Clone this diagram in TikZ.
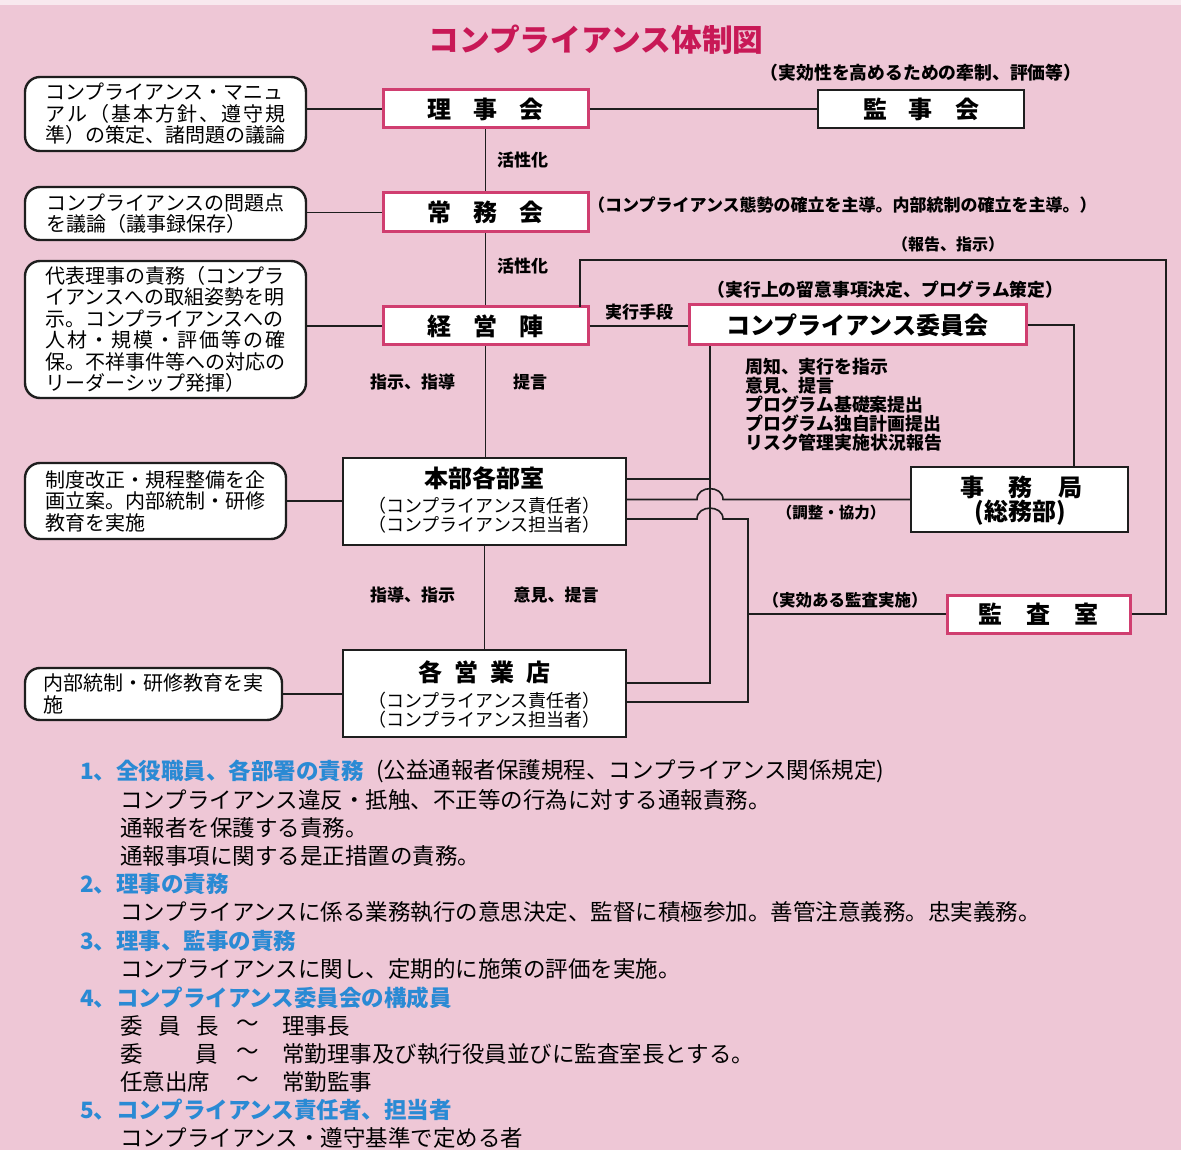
\documentclass[tikz,border=0pt]{standalone}
\usepackage{fontspec}
\setmainfont{Noto Sans CJK JP}
\definecolor{bgpink}{RGB}{238,199,214}
\definecolor{boxpink}{RGB}{208,62,112}
\definecolor{titlered}{RGB}{200,24,86}
\definecolor{headblue}{RGB}{42,138,212}
\definecolor{linec}{RGB}{30,30,30}
\tikzset{
  pinkbox/.style={draw=boxpink, line width=3pt, fill=white, inner sep=0pt, font=\bfseries\fontsize{24}{28}\selectfont},
  blackbox/.style={draw=linec, line width=2pt, fill=white, inner sep=0pt, font=\bfseries\fontsize{24}{28}\selectfont},
  notebox/.style={draw=linec, line width=2.4pt, fill=white, rounded corners=15pt, inner sep=0pt, align=left, font=\fontsize{20}{21.5}\selectfont},
  link/.style={draw=linec, line width=1.6pt},
  lab/.style={inner sep=0pt, font=\bfseries\fontsize{17}{19}\selectfont},
  subtxt/.style={inner sep=0pt, font=\fontsize{18}{19}\selectfont},
  bigtxt/.style={inner sep=0pt, font=\bfseries\fontsize{24}{28}\selectfont},
  btext/.style={anchor=west, inner sep=0pt, font=\fontsize{22.5}{26}\selectfont},
  bhead/.style={anchor=west, inner sep=0pt, text=headblue, font=\bfseries\fontsize{22.5}{26}\selectfont},
}
\begin{document}
\begin{tikzpicture}[x=1pt,y=-1pt]
\useasboundingbox (0,0) rectangle (1181,1150);
\fill[bgpink] (0,0) rectangle (1181,1150);
\fill[bgpink!40!white] (0,0) rectangle (1181,5);

% title
\node[inner sep=0pt, text=titlered, font=\bfseries\fontsize{30.7}{34}\selectfont] (title) at (596,40) {コンプライアンス体制図};

% main boxes
\node[pinkbox, minimum width=205pt, minimum height=38pt] (riji) at (485.5,109) {理\hspace{22pt}事\hspace{22pt}会};
\node[blackbox, minimum width=206pt, minimum height=38pt] (kanji) at (921,109) {監\hspace{22pt}事\hspace{22pt}会};
\node[pinkbox, minimum width=205pt, minimum height=39pt] (jomu) at (485.5,212.5) {常\hspace{22pt}務\hspace{22pt}会};
\node[pinkbox, minimum width=205pt, minimum height=38pt] (keiei) at (485.5,326) {経\hspace{22pt}営\hspace{22pt}陣};
\node[pinkbox, minimum width=337pt, minimum height=40pt] (iinkai) at (857.5,325) {コンプライアンス委員会};
\node[blackbox, minimum width=217pt, minimum height=65pt] (jimu) at (1019.5,499.5) {};
\node[blackbox, minimum width=283pt, minimum height=87pt] (honbu) at (484.5,501.5) {};
\node[blackbox, minimum width=283pt, minimum height=87pt] (eigyo) at (484.5,693.5) {};
\node[pinkbox, minimum width=183pt, minimum height=38pt] (kansa) at (1038.5,614) {監\hspace{24pt}査\hspace{24pt}室};

% texts inside multi-line boxes
\node[bigtxt] (jimuA) at (1021,487) {事\hspace{25pt}務\hspace{25pt}局};
\node[bigtxt] (jimuB) at (1020,513) {(総務部)};
\node[bigtxt] (honbuA) at (484.5,478) {本部各部室};
\node[subtxt] (honbuB) at (484.5,506) {（コンプライアンス責任者）};
\node[subtxt] (honbuC) at (484.5,525) {（コンプライアンス担当者）};
\node[bigtxt] (eigyoA) at (484.5,672) {各\hspace{12pt}営\hspace{12pt}業\hspace{12pt}店};
\node[subtxt] (eigyoB) at (484.5,701) {（コンプライアンス責任者）};
\node[subtxt] (eigyoC) at (484.5,720) {（コンプライアンス担当者）};

% left note boxes
\node[notebox, minimum width=281pt, minimum height=74pt] (n1) at (165.5,114) {コンプライアンス・マニュ\\\makebox[240pt][s]{ア\hfill ル\hfill （\hfill 基\hfill 本\hfill 方\hfill 針\hfill 、\hfill 遵\hfill 守\hfill 規}\\準）の策定、諸問題の議論};
\node[notebox, minimum width=281pt, minimum height=53pt] (n2) at (165.5,213.5) {コンプライアンスの問題点\\を議論（議事録保存）};
\node[notebox, minimum width=281pt, minimum height=137pt] (n3) at (165.5,329.5) {代表理事の責務（コンプラ\\イアンスへの取組姿勢を明\\示。コンプライアンスへの\\\makebox[240pt][s]{人\hfill 材\hfill ・\hfill 規\hfill 模\hfill ・\hfill 評\hfill 価\hfill 等\hfill の\hfill 確}\\保。不祥事件等への対応の\\リーダーシップ発揮）};
\node[notebox, minimum width=261pt, minimum height=76pt] (n4) at (155.5,501) {制度改正・規程整備を企\\画立案。内部統制・研修\\教育を実施};
\node[notebox, minimum width=257pt, minimum height=52pt] (n5) at (153.5,694) {内部統制・研修教育を実\\施};

% connectors: left notes
\draw[link] (n1.east |- riji.west) -- (riji.west);
\draw[link] (n2.east |- jomu.west) -- (jomu.west);
\draw[link] (n3.east |- keiei.west) -- (keiei.west);
\draw[link] (n4.east) -- (n4.east -| honbu.west);
\draw[link] (n5.east) -- (n5.east -| eigyo.west);

% trunk
\draw[link] (riji.east) -- (kanji.west);
\draw[link] (riji.south) -- (jomu.north);
\draw[link] (jomu.south) -- (keiei.north);
\draw[link] (keiei.south) -- (keiei.south |- honbu.north);
\draw[link] (honbu.south) -- (eigyo.north);
\draw[link] (keiei.east) -- (keiei.east -| iinkai.west);

% report loop keiei -> kansa
\coordinate (rc) at (1166,260);
\coordinate (kk) at (580,307);
\draw[link] (kk) |- (rc) |- (kansa.east);

% iinkai -> jimu
\coordinate (jc) at (1074,325);
\draw[link] (iinkai.east |- jc) -- (jc) -- (jc |- jimu.north);

% iinkai -> eigyo
\coordinate (c1) at (710,683);
\draw[link] (iinkai.south -| c1) -- (c1) -- (c1 -| eigyo.east);

% honbu lines
\coordinate (c4) at (710,479);
\draw[link] (c4 -| honbu.east) -- (c4);
\draw[link] (jimu.west -| honbu.east) -- (697,499.5) .. controls (697,485) and (723,485) .. (723,499.5) -- (jimu.west);
\coordinate (c3) at (748,519);
\coordinate (c2) at (748,702);
\draw[link] (c3 -| honbu.east) -- (697,519) .. controls (697,504.5) and (723,504.5) .. (723,519) -- (c3) -- (c2) -- (c2 -| eigyo.east);
\draw[link] (kansa.west) -- (kansa.west -| c2);

% labels
\node[lab] (l1) at (522.5,160) {活性化};
\node[lab] (l2) at (522.5,266) {活性化};
\node[lab] (l3) at (412.5,382) {指示、指導};
\node[lab] (l4) at (530,382) {提言};
\node[lab] (l5) at (412.5,595) {指導、指示};
\node[lab] (l6) at (556,595) {意見、提言};
\node[lab] (l7) at (639,312) {実行手段};
\node[lab, font=\bfseries\fontsize{16}{19}\selectfont] (l8) at (948,244) {（報告、指示）};
\node[lab, font=\bfseries\fontsize{17.8}{19}\selectfont] (l9) at (921,73) {（実効性を高めるための牽制、評価等）};
\node[lab, anchor=west, font=\bfseries\fontsize{17}{19}\selectfont] (l10) at (588,205) {（コンプライアンス態勢の確立を主導。内部統制の確立を主導。）};
\node[lab, font=\bfseries\fontsize{17.8}{19}\selectfont] (l11) at (885.5,290) {（実行上の留意事項決定、プログラム策定）};
\node[lab, font=\bfseries\fontsize{16.5}{19}\selectfont] (l12) at (845,600) {（実効ある監査実施）};
\node[lab, font=\bfseries\fontsize{15.5}{19}\selectfont] (l13) at (831,513) {（調整・協力）};

\node[lab, anchor=west, font=\bfseries\fontsize{17.9}{19}\selectfont] (m1) at (745,367) {周知、実行を指示};
\node[lab, anchor=west, font=\bfseries\fontsize{17.9}{19}\selectfont] (m2) at (745,386) {意見、提言};
\node[lab, anchor=west, font=\bfseries\fontsize{17.9}{19}\selectfont] (m3) at (745,404.5) {プログラム基礎案提出};
\node[lab, anchor=west, font=\bfseries\fontsize{17.9}{19}\selectfont] (m4) at (745,423.5) {プログラム独自計画提出};
\node[lab, anchor=west, font=\bfseries\fontsize{17.9}{19}\selectfont] (m5) at (745,443) {リスク管理実施状況報告};

% bottom text
\node[bhead] (b1) at (80,771) {1、全役職員、各部署の責務};
\node[btext] (b1b) at (376,771) {(公益通報者保護規程、コンプライアンス関係規定)};
\node[btext] (b2) at (120,799.5) {コンプライアンス違反・抵触、不正等の行為に対する通報責務。};
\node[btext] (b3) at (120,827.5) {通報者を保護する責務。};
\node[btext] (b4) at (120,856) {通報事項に関する是正措置の責務。};
\node[bhead] (b5) at (80,884) {2、理事の責務};
\node[btext] (b6) at (120,912.5) {コンプライアンスに係る業務執行の意思決定、監督に積極参加。善管注意義務。忠実義務。};
\node[bhead] (b7) at (80,941) {3、理事、監事の責務};
\node[btext] (b8) at (120,969) {コンプライアンスに関し、定期的に施策の評価を実施。};
\node[bhead] (b9) at (80,997.5) {4、コンプライアンス委員会の構成員};
\node[btext] (b10) at (120,1025.5) {委\hspace{16pt}員\hspace{15pt}長};
\node[btext] (b10t) at (236,1025.5) {～};
\node[btext] (b10v) at (282,1025.5) {理事長};
\node[btext] (b11) at (120,1054) {委\hspace{53pt}員};
\node[btext] (b11t) at (236,1054) {～};
\node[btext] (b11v) at (282,1054) {常勤理事及び執行役員並びに監査室長とする。};
\node[btext] (b12) at (120,1082) {任意出席};
\node[btext] (b12t) at (236,1082) {～};
\node[btext] (b12v) at (282,1082) {常勤監事};
\node[bhead] (b13) at (80,1110) {5、コンプライアンス責任者、担当者};
\node[btext] (b14) at (120,1138) {コンプライアンス・遵守基準で定める者};
\end{tikzpicture}
\end{document}
